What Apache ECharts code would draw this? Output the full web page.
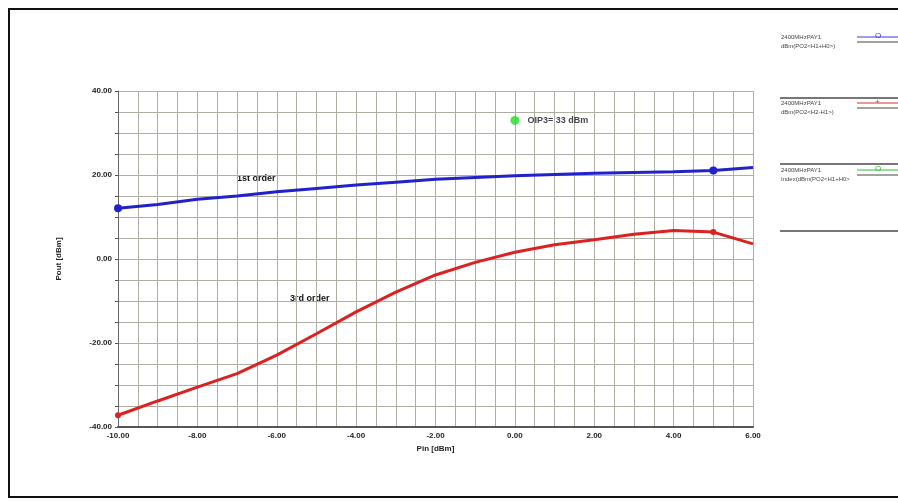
<!DOCTYPE html>
<html><head><meta charset="utf-8">
<script src="https://cdn.jsdelivr.net/npm/echarts@6/dist/echarts.min.js"></script>
<style>html,body{margin:0;padding:0;background:#fff}#c{width:898px;height:504px}</style>
</head><body><div id="c"></div>
<script>
const pinValues = [-10,-9,-8,-7,-6,-5,-4,-3,-2,-1,0,1,2,3,4,5,6];
const firstOrder = [12.1,13.0,14.2,15.0,16.0,16.8,17.6,18.3,19.0,19.4,19.8,20.1,20.4,20.6,20.8,21.1,21.8];
const thirdOrder = [-37.2,-33.8,-30.5,-27.3,-22.9,-17.8,-12.6,-7.9,-3.8,-0.8,1.6,3.4,4.6,5.9,6.8,6.4,3.6];
const markerPins = [-10,5];
const oip3 = [0,33];
const oip3Label = 'OIP3= 33 dBm';
const xTickLabels = ['-10.00','-8.00','-6.00','-4.00','-2.00','0.00','2.00','4.00','6.00'];
const yTickLabels = ['-40.00','-20.00','0.00','20.00','40.00'];
const legendEntries = [
  {l1:'2400MHzPAY1', l2:'dBm(PO2<H1+H0>)', color:'#3a3ae0', sym:'O'},
  {l1:'2400MHzPAY1', l2:'dBm(PO2<H2-H1>)', color:'#e03030', sym:'+'},
  {l1:'2400MHzPAY1', l2:'Index(dBm(PO2<H1+H0>', color:'#30c030', sym:'O'}
];

function buildData(ys, sz){
  return pinValues.map((x,i)=>({value:[x,ys[i]], symbolSize: markerPins.includes(x)? sz:0}));
}
const FONT = 'Liberation Sans';
const chart = echarts.init(document.getElementById('c'));
const graphics = [
  {type:'rect', shape:{x:9,y:9,width:900,height:488}, style:{fill:'none', stroke:'#111', lineWidth:2}, z:100},
  {type:'text', left:237, top:174, style:{text:'1st order', font:'bold 9px '+FONT, fill:'#111'}},
  {type:'text', left:290, top:294, style:{text:'3rd order', font:'bold 9px '+FONT, fill:'#111'}},
];
const legY = [37, 103, 170];
legendEntries.forEach((e,i)=>{
  const y = legY[i];
  graphics.push({type:'text', left:781, top:y-3, style:{text:e.l1, font:'6px '+FONT, fill:'#444'}});
  graphics.push({type:'text', left:781, top:y+6, style:{text:e.l2, font:'6px '+FONT, fill:'#444'}});
  graphics.push({type:'line', shape:{x1:857,y1:y,x2:900,y2:y}, style:{stroke:e.color, lineWidth:1}});
  graphics.push({type:'text', left:875, top:y-5, style:{text:e.sym, font:'8px '+FONT, fill:e.color}});
  graphics.push({type:'line', shape:{x1:857,y1:y+5,x2:900,y2:y+5}, style:{stroke:'#444', lineWidth:1}});
  graphics.push({type:'line', shape:{x1:780,y1:y+61,x2:900,y2:y+61}, style:{stroke:'#777', lineWidth:2}});
});

chart.setOption({
  animation:false,
  backgroundColor:'#fff',
  grid:{left:118, right:145, top:91, bottom:77},
  xAxis:{type:'value', min:-10, max:6, interval:0.5,
    name:'Pin [dBm]', nameLocation:'middle', nameGap:17,
    nameTextStyle:{fontSize:8, fontWeight:'bold', fontFamily:FONT, color:'#222'},
    axisLine:{show:true, onZero:false, lineStyle:{color:'#555', width:2}},
    axisTick:{show:false},
    axisLabel:{fontSize:8, fontWeight:'bold', fontFamily:FONT, color:'#222', margin:5,
      formatter:v=>{const idx=(v+10)/2; return Number.isInteger(idx)? xTickLabels[idx]:'';}},
    splitLine:{show:true, lineStyle:{color:'#aeae a2'.replace(' ',''), width:1}}
  },
  yAxis:{type:'value', min:-40, max:40, interval:5,
    name:'Pout [dBm]', nameLocation:'middle', nameGap:55, nameRotate:90,
    nameTextStyle:{fontSize:8, fontWeight:'bold', fontFamily:FONT, color:'#222'},
    axisLine:{show:true, onZero:false, lineStyle:{color:'#666', width:1}},
    axisTick:{show:true, length:3, lineStyle:{color:'#555'}},
    axisLabel:{fontSize:8, fontWeight:'bold', fontFamily:FONT, color:'#222', margin:6,
      formatter:v=>{const idx=(v+40)/20; return Number.isInteger(idx)? yTickLabels[idx]:'';}},
    splitLine:{show:true, lineStyle:{color:'#aeaea2', width:1}}
  },
  series:[
    {type:'line', data:buildData(firstOrder,8), symbol:'circle', showAllSymbol:true,
      lineStyle:{color:'#2222cc', width:3}, itemStyle:{color:'#2222cc'}},
    {type:'line', data:buildData(thirdOrder,6), symbol:'circle', showAllSymbol:true,
      lineStyle:{color:'#dd2020', width:3}, itemStyle:{color:'#dd2020'}},
    {type:'scatter', data:[oip3], symbol:'circle', symbolSize:9, itemStyle:{color:'#22dd22'},
      label:{show:true, position:'right', distance:8, formatter:oip3Label,
        fontSize:9, fontWeight:'bold', fontFamily:FONT, color:'#111'}}
  ],
  graphic:graphics
});
</script></body></html>
